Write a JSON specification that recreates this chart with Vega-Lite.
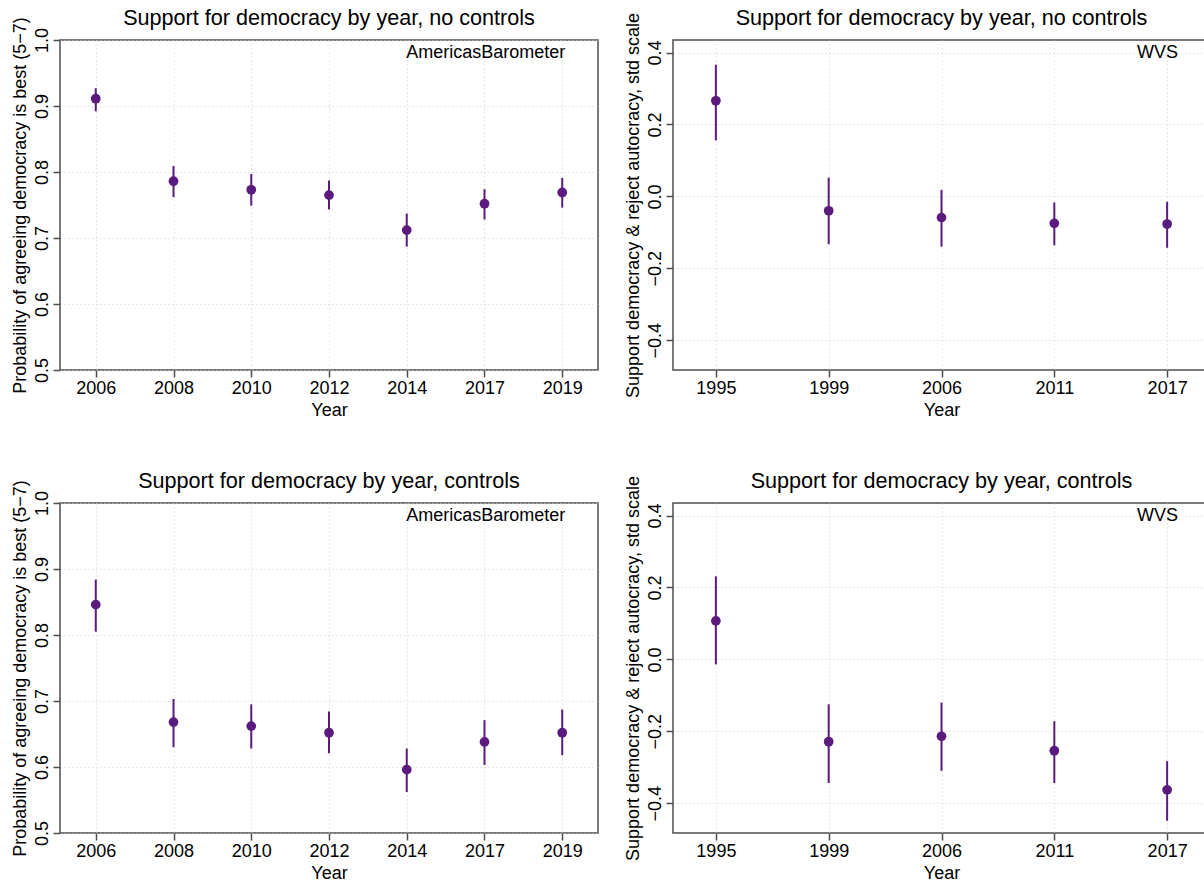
{
  "$schema": "https://vega.github.io/schema/vega-lite/v6.json",
  "background": "white",
  "padding": {"left": 10, "top": 7, "right": 0, "bottom": 0},
  "datasets": {
    "est": [
      {"panel": "ab_nc", "year": "2006", "est": 0.911, "lo": 0.892, "hi": 0.927},
      {"panel": "ab_nc", "year": "2008", "est": 0.786, "lo": 0.762, "hi": 0.809},
      {"panel": "ab_nc", "year": "2010", "est": 0.773, "lo": 0.749, "hi": 0.797},
      {"panel": "ab_nc", "year": "2012", "est": 0.765, "lo": 0.743, "hi": 0.787},
      {"panel": "ab_nc", "year": "2014", "est": 0.712, "lo": 0.687, "hi": 0.737},
      {"panel": "ab_nc", "year": "2017", "est": 0.752, "lo": 0.728, "hi": 0.774},
      {"panel": "ab_nc", "year": "2019", "est": 0.769, "lo": 0.746, "hi": 0.791},
      {"panel": "wvs_nc", "year": "1995", "est": 0.266, "lo": 0.156, "hi": 0.366},
      {"panel": "wvs_nc", "year": "1999", "est": -0.040, "lo": -0.133, "hi": 0.052},
      {"panel": "wvs_nc", "year": "2006", "est": -0.059, "lo": -0.140, "hi": 0.018},
      {"panel": "wvs_nc", "year": "2011", "est": -0.075, "lo": -0.136, "hi": -0.017},
      {"panel": "wvs_nc", "year": "2017", "est": -0.077, "lo": -0.143, "hi": -0.015},
      {"panel": "ab_c", "year": "2006", "est": 0.846, "lo": 0.805, "hi": 0.884},
      {"panel": "ab_c", "year": "2008", "est": 0.668, "lo": 0.630, "hi": 0.703},
      {"panel": "ab_c", "year": "2010", "est": 0.662, "lo": 0.628, "hi": 0.695},
      {"panel": "ab_c", "year": "2012", "est": 0.652, "lo": 0.621, "hi": 0.684},
      {"panel": "ab_c", "year": "2014", "est": 0.596, "lo": 0.562, "hi": 0.628},
      {"panel": "ab_c", "year": "2017", "est": 0.638, "lo": 0.603, "hi": 0.671},
      {"panel": "ab_c", "year": "2019", "est": 0.652, "lo": 0.618, "hi": 0.687},
      {"panel": "wvs_c", "year": "1995", "est": 0.107, "lo": -0.014, "hi": 0.231},
      {"panel": "wvs_c", "year": "1999", "est": -0.229, "lo": -0.344, "hi": -0.125},
      {"panel": "wvs_c", "year": "2006", "est": -0.214, "lo": -0.310, "hi": -0.120},
      {"panel": "wvs_c", "year": "2011", "est": -0.254, "lo": -0.344, "hi": -0.172},
      {"panel": "wvs_c", "year": "2017", "est": -0.363, "lo": -0.449, "hi": -0.283}
    ],
    "notes": [
      {"panel": "ab_nc", "label": "AmericasBarometer"},
      {"panel": "wvs_nc", "label": "WVS"},
      {"panel": "ab_c", "label": "AmericasBarometer"},
      {"panel": "wvs_c", "label": "WVS"}
    ]
  },
  "config": {
    "font": "Liberation Sans",
    "view": {"stroke": "#4d4d4d", "strokeWidth": 1.5},
    "axis": {
      "labelFont": "Liberation Sans", "labelFontSize": 18, "labelColor": "#000",
      "titleFont": "Liberation Sans", "titleFontSize": 18, "titleFontWeight": "normal", "titleColor": "#000",
      "domain": false, "tickColor": "#4d4d4d", "tickSize": 7, "tickWidth": 1.5,
      "gridColor": "#d0d0d0", "gridDash": [1, 3], "gridWidth": 1, "labelPadding": 2
    },
    "title": {"font": "Liberation Sans", "fontSize": 21.6, "fontWeight": "normal", "color": "#000", "frame": "group", "anchor": "middle"}
  },
  "columns": 2,
  "bounds": "flush",
  "spacing": {"row": 133, "column": 75},
  "concat": [
    {
      "width": 538, "height": 330,
      "title": {"text": "Support for democracy by year, no controls", "offset": -13},
      "data": {"name": "est"},
      "transform": [{"filter": "datum.panel === 'ab_nc'"}],
      "layer": [
        {"mark": {"type": "rule", "color": "#5A1A7E", "strokeWidth": 2},
         "encoding": {
           "x": {"field": "year", "type": "ordinal", "scale": {"type": "point", "padding": 0.46}, "axis": {"title": "Year", "labelAngle": 0, "grid": true}},
           "y": {"field": "lo", "type": "quantitative", "scale": {"domain": [0.5, 1.0], "nice": false, "zero": false}, "axis": {"title": "Probability of agreeing democracy is best (5−7)", "values": [0.5, 0.6, 0.7, 0.8, 0.9, 1.0], "format": ".1f", "labelAngle": -90, "labelAlign": "center", "labelBaseline": "bottom", "grid": true}},
           "y2": {"field": "hi"}}},
        {"mark": {"type": "circle", "color": "#5A1A7E", "opacity": 1, "size": 95},
         "encoding": {"x": {"field": "year", "type": "ordinal"}, "y": {"field": "est", "type": "quantitative"}}},
        {"data": {"name": "notes"},
         "transform": [{"filter": "datum.panel === 'ab_nc'"}],
         "mark": {"type": "text", "align": "right", "baseline": "alphabetic", "dx": 3, "fontSize": 18, "font": "Liberation Sans", "color": "#000"},
         "encoding": {"x": {"datum": "2019"}, "y": {"datum": 0.973}, "text": {"field": "label"}}}
      ]
    },
    {
      "width": 537, "height": 330,
      "title": {"text": "Support for democracy by year, no controls", "offset": -17},
      "data": {"name": "est"},
      "transform": [{"filter": "datum.panel === 'wvs_nc'"}],
      "layer": [
        {"mark": {"type": "rule", "color": "#5A1A7E", "strokeWidth": 2},
         "encoding": {
           "x": {"field": "year", "type": "ordinal", "scale": {"type": "point", "padding": 0.38}, "axis": {"title": "Year", "labelAngle": 0, "grid": true}},
           "y": {"field": "lo", "type": "quantitative", "scale": {"domain": [-0.483, 0.435], "nice": false, "zero": false}, "axis": {"title": "Support democracy & reject autocracy, std scale", "values": [-0.4, -0.2, 0, 0.2, 0.4], "format": ".1f", "labelAngle": -90, "labelAlign": "center", "labelBaseline": "bottom", "grid": true}},
           "y2": {"field": "hi"}}},
        {"mark": {"type": "circle", "color": "#5A1A7E", "opacity": 1, "size": 95},
         "encoding": {"x": {"field": "year", "type": "ordinal"}, "y": {"field": "est", "type": "quantitative"}}},
        {"data": {"name": "notes"},
         "transform": [{"filter": "datum.panel === 'wvs_nc'"}],
         "mark": {"type": "text", "align": "right", "baseline": "alphabetic", "dx": 11, "fontSize": 18, "font": "Liberation Sans", "color": "#000"},
         "encoding": {"x": {"datum": "2017"}, "y": {"datum": 0.385}, "text": {"field": "label"}}}
      ]
    },
    {
      "width": 538, "height": 330,
      "title": {"text": "Support for democracy by year, controls", "offset": -13},
      "data": {"name": "est"},
      "transform": [{"filter": "datum.panel === 'ab_c'"}],
      "layer": [
        {"mark": {"type": "rule", "color": "#5A1A7E", "strokeWidth": 2},
         "encoding": {
           "x": {"field": "year", "type": "ordinal", "scale": {"type": "point", "padding": 0.46}, "axis": {"title": "Year", "labelAngle": 0, "grid": true}},
           "y": {"field": "lo", "type": "quantitative", "scale": {"domain": [0.5, 1.0], "nice": false, "zero": false}, "axis": {"title": "Probability of agreeing democracy is best (5−7)", "values": [0.5, 0.6, 0.7, 0.8, 0.9, 1.0], "format": ".1f", "labelAngle": -90, "labelAlign": "center", "labelBaseline": "bottom", "grid": true}},
           "y2": {"field": "hi"}}},
        {"mark": {"type": "circle", "color": "#5A1A7E", "opacity": 1, "size": 95},
         "encoding": {"x": {"field": "year", "type": "ordinal"}, "y": {"field": "est", "type": "quantitative"}}},
        {"data": {"name": "notes"},
         "transform": [{"filter": "datum.panel === 'ab_c'"}],
         "mark": {"type": "text", "align": "right", "baseline": "alphabetic", "dx": 3, "fontSize": 18, "font": "Liberation Sans", "color": "#000"},
         "encoding": {"x": {"datum": "2019"}, "y": {"datum": 0.973}, "text": {"field": "label"}}}
      ]
    },
    {
      "width": 537, "height": 330,
      "title": {"text": "Support for democracy by year, controls", "offset": -17},
      "data": {"name": "est"},
      "transform": [{"filter": "datum.panel === 'wvs_c'"}],
      "layer": [
        {"mark": {"type": "rule", "color": "#5A1A7E", "strokeWidth": 2},
         "encoding": {
           "x": {"field": "year", "type": "ordinal", "scale": {"type": "point", "padding": 0.38}, "axis": {"title": "Year", "labelAngle": 0, "grid": true}},
           "y": {"field": "lo", "type": "quantitative", "scale": {"domain": [-0.483, 0.435], "nice": false, "zero": false}, "axis": {"title": "Support democracy & reject autocracy, std scale", "values": [-0.4, -0.2, 0, 0.2, 0.4], "format": ".1f", "labelAngle": -90, "labelAlign": "center", "labelBaseline": "bottom", "grid": true}},
           "y2": {"field": "hi"}}},
        {"mark": {"type": "circle", "color": "#5A1A7E", "opacity": 1, "size": 95},
         "encoding": {"x": {"field": "year", "type": "ordinal"}, "y": {"field": "est", "type": "quantitative"}}},
        {"data": {"name": "notes"},
         "transform": [{"filter": "datum.panel === 'wvs_c'"}],
         "mark": {"type": "text", "align": "right", "baseline": "alphabetic", "dx": 11, "fontSize": 18, "font": "Liberation Sans", "color": "#000"},
         "encoding": {"x": {"datum": "2017"}, "y": {"datum": 0.385}, "text": {"field": "label"}}}
      ]
    }
  ]
}
